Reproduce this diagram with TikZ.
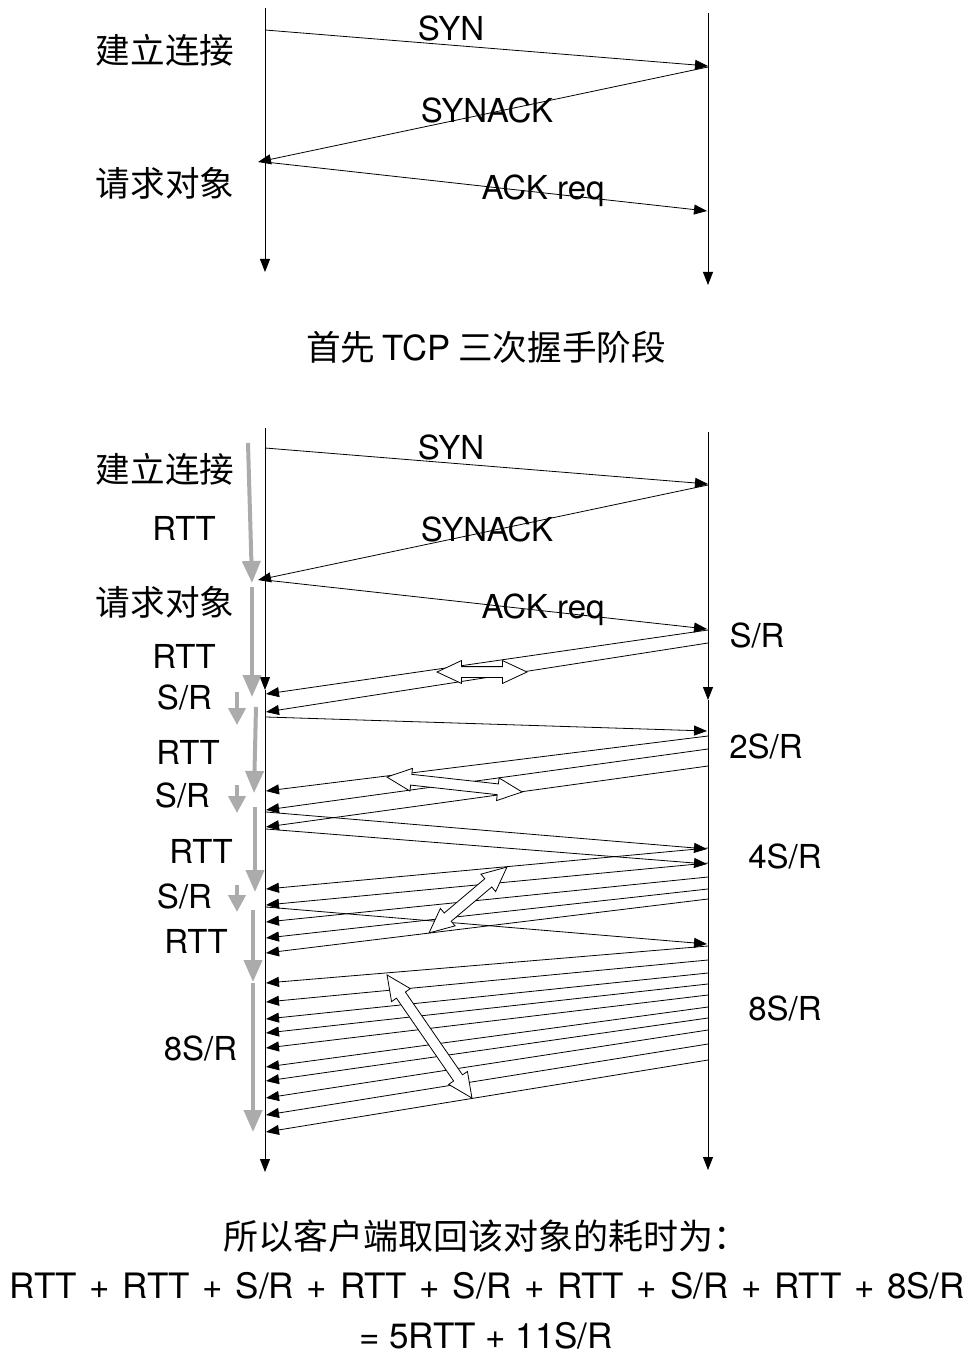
\documentclass[tikz,border=0pt]{standalone}
\usepackage{fontspec}
\setmainfont{TeX Gyre Heros}
\newfontfamily\cjk{Noto Sans CJK SC}
\usetikzlibrary{arrows.meta, shapes.arrows}
\definecolor{spangray}{HTML}{ABABAB}

\tikzset{
  msg/.style={-{Triangle[length=6.5pt,width=5pt]}},
  rtt/.style={draw=spangray, line width=2pt, -{Triangle[length=11pt,width=9pt]}},
  trans/.style={draw=spangray, line width=2pt, -{Triangle[length=8.5pt,width=8.5pt]}},
  gap/.style={double arrow, draw, fill=white, inner xsep=0pt, inner ysep=2.5pt,
    double arrow head extend=3pt, double arrow tip angle=50},
  lbl/.style={font=\fontsize{16.5}{20}\selectfont, inner sep=0pt, anchor=base},
  cjklbl/.style={font=\fontsize{17.3}{21}\selectfont\cjk, inner sep=0pt, anchor=base},
  sum/.style={font=\fontsize{17.5}{21}\selectfont, inner sep=0pt, anchor=base},
}

\begin{document}
\begin{tikzpicture}[x=0.5pt, y=-0.5pt]
\useasboundingbox (0,0) rectangle (973,1369);

% lifelines, upper picture
\coordinate (ctop) at (265,8);
\coordinate (cend) at (265,272);
\coordinate (stop) at (708,13);
\coordinate (send) at (708,285);
\draw[msg] (ctop) -- (cend);
\draw[msg] (stop) -- (send);

% lifelines, lower picture
\coordinate (ctopb) at (265,428);
\coordinate (cmid) at (265,690);
\coordinate (cendb) at (265,1172);
\coordinate (stopb) at (708,432);
\coordinate (smid) at (708,700);
\coordinate (sendb) at (708,1170);
\draw[msg] (ctopb) -- (cmid);
\draw[msg] (cmid) -- (cendb);
\draw[msg] (stopb) -- (smid);
\draw[msg] (smid) -- (sendb);

% handshake, drawn in both pictures
\foreach \dy/\n in {0/a,418/b} {
  \coordinate (syn\n) at (265,30+\dy);
  \coordinate (synr\n) at (708,66+\dy);
  \coordinate (sack\n) at (708,67+\dy);
  \coordinate (sackl\n) at (258,162+\dy);
  \coordinate (req\n) at (265,162+\dy);
  \coordinate (reqr\n) at (707,211+\dy);
  \draw[msg] (syn\n) -- (synr\n);
  \draw[msg] (sack\n) -- (sackl\n);
  \draw[msg] (req\n) -- (reqr\n);
  \node[lbl] (synlbl\n) at (451,41+\dy) {SYN};
  \node[lbl] (sacklbl\n) at (487,123+\dy) {SYNACK};
  \node[lbl] (reqlbl\n) at (543,200+\dy) {ACK req};
  \node[cjklbl] (connlbl\n) at (165,64+\dy) {建立连接};
  \node[cjklbl] (objlbl\n) at (165,197+\dy) {请求对象};
}

\node[cjklbl] (title) at (486,360) {首先 {\rmfamily TCP} 三次握手阶段};

% data segments, server to client
\foreach \ra/\lb [count=\i] in {630/694, 643/712,
    736/791, 749/810, 766/827,
    848/889, 863/905, 877/922, 889/938, 899/953,
    946/983, 960/1002, 973/1019, 984/1033, 995/1048,
    1007/1067, 1018/1081, 1030/1098, 1044/1115, 1060/1132} {
  \coordinate (pr\i) at (708,\ra);
  \coordinate (pl\i) at (266,\lb);
  \draw[msg] (pr\i) -- (pl\i);
}

% acks, client to server
\foreach \la/\rb [count=\i] in {717/731, 812/849, 829/864, 907/944} {
  \coordinate (al\i) at (266,\la);
  \coordinate (ar\i) at (707,\rb);
  \draw[msg] (al\i) -- (ar\i);
}

% transmission times
\node[gap, minimum height=45pt] (gap1) at (482,672) {};
\node[gap, minimum height=68pt, rotate=-6.3] (gap2) at (454.5,784.5) {};
\node[gap, minimum height=51pt, rotate=40.2] (gap3) at (468,900) {};
\node[gap, minimum height=74.75pt, rotate=-55.4] (gap4) at (429.5,1036.5) {};

% grey time spans
\foreach \xa/\ya/\xb/\yb [count=\i] in {248/443/252/583, 252/587/252/697,
    256/707/254/793, 255/807/255/892, 253/910/253/982, 253/983/253/1132} {
  \coordinate (ga\i) at (\xa,\ya);
  \coordinate (gb\i) at (\xb,\yb);
  \draw[rtt] (ga\i) -- (gb\i);
}
\foreach \ya/\yb [count=\i] in {692/725, 785/813, 885/912} {
  \coordinate (ta\i) at (237,\ya);
  \coordinate (tb\i) at (237,\yb);
  \draw[trans] (ta\i) -- (tb\i);
}

% left labels
\node[lbl] (rtt1) at (184,540) {RTT};
\node[lbl] (rtt2) at (184,668) {RTT};
\node[lbl] (sr1) at (184.5,709) {S/R};
\node[lbl] (rtt3) at (188,764) {RTT};
\node[lbl] (sr2) at (182.5,807) {S/R};
\node[lbl] (rtt4) at (201,863) {RTT};
\node[lbl] (sr3) at (184.5,908) {S/R};
\node[lbl] (rtt5) at (196,953) {RTT};
\node[lbl] (sr8) at (200.5,1060) {8S/R};

% right labels
\node[lbl] (win1) at (757,647) {S/R};
\node[lbl] (win2) at (766,758) {2S/R};
\node[lbl] (win4) at (785,868) {4S/R};
\node[lbl] (win8) at (785,1020) {8S/R};

% total
\node[sum, font=\fontsize{17.5}{21}\selectfont\cjk] (sum1) at (486,1249) {所以客户端取回该对象的耗时为：};
\node[sum] (sum2) at (487.5,1298) {\makebox[477.5pt][s]{RTT + RTT + S/R + RTT + S/R + RTT + S/R + RTT + 8S/R}};
\node[sum] (sum3) at (486,1348) {= 5RTT + 11S/R};
\end{tikzpicture}
\end{document}
